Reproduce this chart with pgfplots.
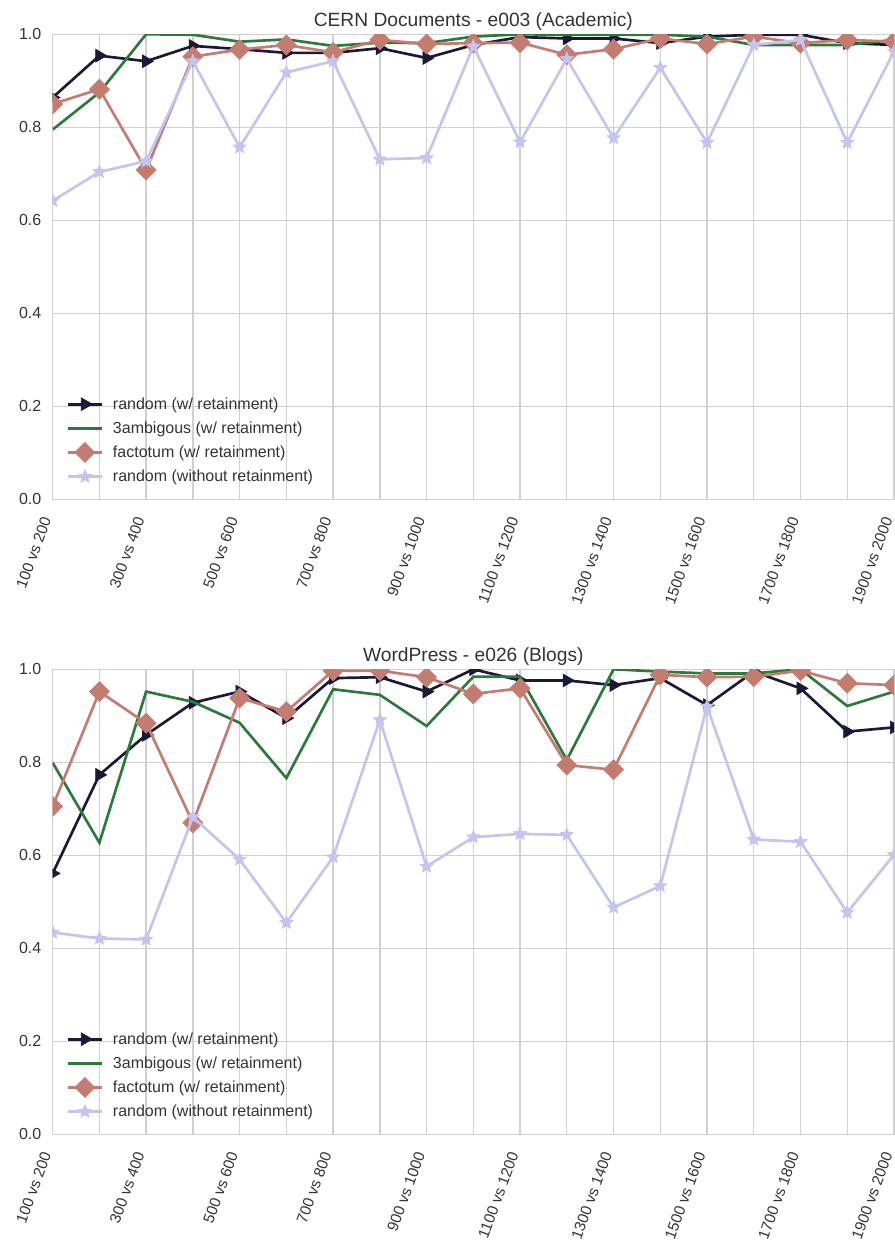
\documentclass[border=0pt]{standalone}
\usepackage{fontspec}
\setmainfont{Liberation Sans}
\usepackage{pgfplots}
\pgfplotsset{compat=1.18}

\definecolor{cnavy}{HTML}{1B1938}
\definecolor{cgreen}{HTML}{2B7A3A}
\definecolor{csalmon}{HTML}{C47B70}
\definecolor{clav}{HTML}{C4C4F0}
\definecolor{cgrid}{HTML}{D0D0D0}
\definecolor{ctext}{HTML}{333333}

% filled five-pointed star
\pgfdeclareplotmark{fstar}{%
  \pgfpathmoveto{\pgfpointpolar{90}{\pgfplotmarksize}}%
  \pgfpathlineto{\pgfpointpolar{126}{0.45\pgfplotmarksize}}%
  \pgfpathlineto{\pgfpointpolar{162}{\pgfplotmarksize}}%
  \pgfpathlineto{\pgfpointpolar{198}{0.45\pgfplotmarksize}}%
  \pgfpathlineto{\pgfpointpolar{234}{\pgfplotmarksize}}%
  \pgfpathlineto{\pgfpointpolar{270}{0.45\pgfplotmarksize}}%
  \pgfpathlineto{\pgfpointpolar{306}{\pgfplotmarksize}}%
  \pgfpathlineto{\pgfpointpolar{342}{0.45\pgfplotmarksize}}%
  \pgfpathlineto{\pgfpointpolar{18}{\pgfplotmarksize}}%
  \pgfpathlineto{\pgfpointpolar{54}{0.45\pgfplotmarksize}}%
  \pgfpathclose
  \pgfusepathqfillstroke}

\pgfplotsset{
  panel/.style={
    width=631pt, height=348.75pt, scale only axis,
    xmin=0, xmax=18, ymin=0, ymax=1,
    xtick={0,2,...,18}, minor xtick={1,3,...,17},
    xticklabels={100 vs 200,300 vs 400,500 vs 600,700 vs 800,900 vs 1000,
      1100 vs 1200,1300 vs 1400,1500 vs 1600,1700 vs 1800,1900 vs 2000},
    ytick={0,0.2,0.4,0.6,0.8,1.0},
    xmajorgrids, xminorgrids, ymajorgrids,
    major grid style={cgrid, line width=1pt},
    minor grid style={cgrid, line width=1pt},
    axis line style={cgrid, line width=1pt},
    major tick length=0pt, minor tick length=0pt,
    /pgf/number format/assume math mode=true,
    yticklabel style={/pgf/number format/fixed,
      /pgf/number format/fixed zerofill,
      /pgf/number format/precision=1, xshift=-5pt},
    ticklabel style={font=\fontsize{12}{14}\selectfont, text=ctext},
    xticklabel style={font=\fontsize{11.5}{13}\selectfont,
      rotate=70, anchor=east, xshift=-11pt, yshift=-0.3pt},
    title style={font=\fontsize{14.4}{17}\selectfont, text=ctext, yshift=-7pt},
    clip marker paths=true,
    every axis plot/.append style={line width=2pt},
    legend cell align=left,
    legend style={draw=none, fill=none, at={(0,0)}, anchor=south west,
      xshift=7.5pt, yshift=6.8pt, font=\fontsize{12}{14}\selectfont, text=ctext,
      row sep=2.1pt, column sep=7.5pt,
      nodes={inner sep=0pt}},
    legend image code/.code={%
      \path[draw=none, fill=none] (0cm,-8pt) rectangle (0.88cm,8pt);
      \draw[mark repeat=2,mark phase=2,##1]
        plot coordinates {(0cm,0cm) (0.44cm,0cm) (0.88cm,0cm)};},
  },
  navyline/.style={cnavy, mark=triangle*, mark size=5.5pt,
    mark options={solid, fill=cnavy, rotate=-90, line width=0.5pt}},
  greenline/.style={cgreen, mark=none},
  salmonline/.style={csalmon, mark=square*, mark size=5.3pt,
    mark options={solid, fill=csalmon, rotate=45, line width=0.5pt}},
  lavline/.style={clav, mark=fstar, mark size=5.2pt,
    mark options={solid, fill=clav, line width=0.5pt}},
}

\begin{document}
\begin{tikzpicture}
\useasboundingbox (-39.5pt,25.7pt) rectangle (631pt,-904.3pt);

\begin{axis}[panel, at={(0,0)}, anchor=north west,
  title={CERN Documents - e003 (Academic)}]
\addplot[navyline] coordinates {
  (0,0.864) (1,0.954) (2,0.942) (3,0.975) (4,0.968) (5,0.960) (6,0.960)
  (7,0.970) (8,0.949) (9,0.977) (10,0.994) (11,0.991) (12,0.991) (13,0.981)
  (14,0.995) (15,0.999) (16,0.999) (17,0.981) (18,0.977)};
\addlegendentry{random (w/ retainment)}
\addplot[greenline] coordinates {
  (0,0.795) (1,0.875) (2,1.000) (3,0.999) (4,0.984) (5,0.989) (6,0.975)
  (7,0.982) (8,0.981) (9,0.995) (10,1.000) (11,0.999) (12,0.999) (13,0.999)
  (14,0.995) (15,0.977) (16,0.977) (17,0.977) (18,0.988)};
\addlegendentry{3ambigous (w/ retainment)}
\addplot[salmonline] coordinates {
  (0,0.850) (1,0.882) (2,0.708) (3,0.952) (4,0.967) (5,0.977) (6,0.961)
  (7,0.988) (8,0.979) (9,0.981) (10,0.982) (11,0.956) (12,0.968) (13,0.991)
  (14,0.979) (15,0.995) (16,0.981) (17,0.988) (18,0.984)};
\addlegendentry{factotum (w/ retainment)}
\addplot[lavline] coordinates {
  (0,0.642) (1,0.704) (2,0.727) (3,0.942) (4,0.757) (5,0.918) (6,0.942)
  (7,0.731) (8,0.734) (9,0.974) (10,0.768) (11,0.947) (12,0.777) (13,0.928)
  (14,0.767) (15,0.977) (16,0.988) (17,0.767) (18,0.963)};
\addlegendentry{random (without retainment)}
\end{axis}

\begin{axis}[panel, at={(0,-476.25pt)}, anchor=north west,
  title={WordPress - e026 (Blogs)}]
\addplot[navyline] coordinates {
  (0,0.561) (1,0.773) (2,0.859) (3,0.928) (4,0.952) (5,0.895) (6,0.981)
  (7,0.983) (8,0.952) (9,1.000) (10,0.976) (11,0.976) (12,0.966) (13,0.981)
  (14,0.923) (15,0.995) (16,0.959) (17,0.866) (18,0.875)};
\addlegendentry{random (w/ retainment)}
\addplot[greenline] coordinates {
  (0,0.799) (1,0.627) (2,0.952) (3,0.930) (4,0.885) (5,0.766) (6,0.957)
  (7,0.945) (8,0.878) (9,0.984) (10,0.984) (11,0.805) (12,1.000) (13,0.995)
  (14,0.991) (15,0.991) (16,1.000) (17,0.921) (18,0.952)};
\addlegendentry{3ambigous (w/ retainment)}
\addplot[salmonline] coordinates {
  (0,0.705) (1,0.952) (2,0.884) (3,0.670) (4,0.938) (5,0.909) (6,0.997)
  (7,0.997) (8,0.983) (9,0.947) (10,0.959) (11,0.794) (12,0.784) (13,0.988)
  (14,0.983) (15,0.984) (16,0.997) (17,0.970) (18,0.966)};
\addlegendentry{factotum (w/ retainment)}
\addplot[lavline] coordinates {
  (0,0.434) (1,0.421) (2,0.419) (3,0.682) (4,0.591) (5,0.455) (6,0.596)
  (7,0.891) (8,0.576) (9,0.639) (10,0.646) (11,0.644) (12,0.488) (13,0.534)
  (14,0.920) (15,0.634) (16,0.629) (17,0.477) (18,0.601)};
\addlegendentry{random (without retainment)}
\end{axis}
\end{tikzpicture}
\end{document}
